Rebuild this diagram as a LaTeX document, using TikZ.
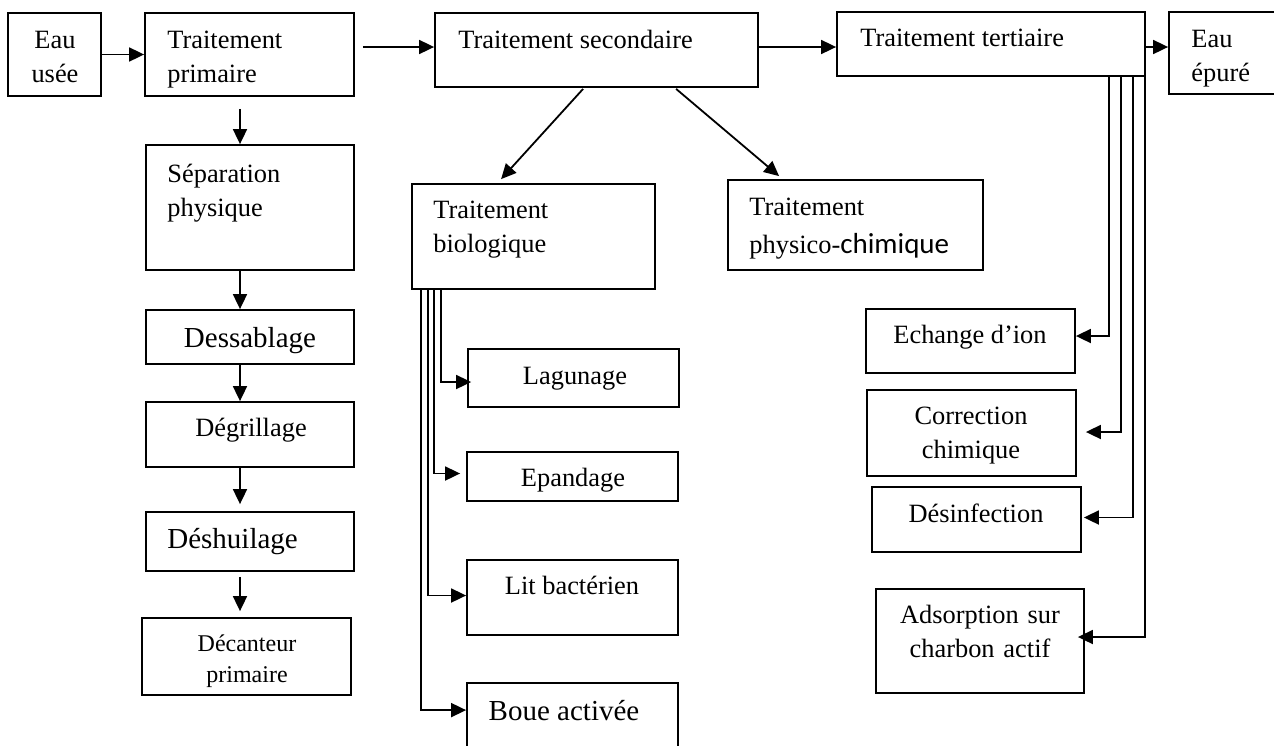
\documentclass[tikz,border=0pt]{standalone}
\usepackage{fontspec}
\setmainfont{Liberation Serif}
\newfontfamily\calibrifont{Carlito}
\usetikzlibrary{arrows.meta,calc,fit}
\tikzset{
	box/.style={draw,line width=0.9pt,inner sep=0pt},
	arr/.style={line width=0.9pt,-{Triangle[length=7.5pt,width=7pt]}},
	txt/.style={inner sep=0pt,font=\fontsize{13.2}{17}\selectfont},
	big/.style={inner sep=0pt,font=\fontsize{14.5}{18}\selectfont},
	sml/.style={inner sep=0pt,font=\fontsize{12}{15.5}\selectfont}
}
\begin{document}
\begin{tikzpicture}[x=0.5pt,y=0.5pt,yscale=-1,xscale=1]
	\useasboundingbox (0,0) rectangle (1274,745);
	\clip (0,0) rectangle (1274,745);
	\node[box,fit={(8,13) (101,96)}] (eu) {};
	\node[box,fit={(145,13) (354,96)}] (tp) {};
	\node[box,fit={(146,145) (354,270)}] (sp) {};
	\node[box,fit={(146,310) (354,364)}] (des) {};
	\node[box,fit={(146,402) (354,467)}] (deg) {};
	\node[box,fit={(146,512) (354,571)}] (desh) {};
	\node[box,fit={(142,618) (351,695)}] (dec) {};
	\node[box,fit={(435,13) (758,87)}] (ts) {};
	\node[box,fit={(412,184) (655,289)}] (tb) {};
	\node[box,fit={(728,180) (983,270)}] (tpc) {};
	\node[box,fit={(468,349) (679,407)}] (lag) {};
	\node[box,fit={(467,452) (678,501)}] (epa) {};
	\node[box,fit={(467,560) (678,635)}] (lit) {};
	\node[box,fit={(467,683) (678,760)}] (boue) {};
	\node[box,fit={(837,12) (1145,76)}] (tt) {};
	\node[box,fit={(1169,12) (1290,94)}] (ep) {};
	\node[box,fit={(866,309) (1075,373)}] (ech) {};
	\node[box,fit={(867,390) (1076,476)}] (cor) {};
	\node[box,fit={(872,487) (1081,552)}] (dsf) {};
	\node[box,fit={(876,589) (1084,693)}] (ads) {};
	\coordinate (colA) at (240,0);

	\node[txt,anchor=base,align=center,text width=60pt] (eu-t) at (55,48) {Eau\\usée};
	\node[txt,anchor=base west,align=left,text width=90pt] (tp-t) at (167,48) {Traitement\\primaire};
	\node[txt,anchor=base west,align=left,text width=90pt] (sp-t) at (167,182) {Séparation\\physique};
	\node[big,anchor=base] (des-t) at (250,347) {Dessablage};
	\node[txt,anchor=base] (deg-t) at (251,436) {Dégrillage};
	\node[big,anchor=base west] (desh-t) at (167,548) {Déshuilage};
	\node[sml,anchor=base,align=center,text width=90pt] (dec-t) at (247,651) {Décanteur\\primaire};
	\node[txt,anchor=base west] (ts-t) at (458,48) {Traitement secondaire};
	\node[txt,anchor=base west,align=left,text width=110pt] (tb-t) at (433,218) {Traitement\\biologique};
	\node[txt,anchor=base west,align=left,text width=110pt,font=\fontsize{13.2}{19}\selectfont] (tpc-t) at (749,215) {Traitement\\physico-{\calibrifont\fontsize{14.5}{19}\selectfont chimique}};
	\node[txt,anchor=base] (lag-t) at (575,384) {Lagunage};
	\node[txt,anchor=base] (epa-t) at (573,486) {Epandage};
	\node[txt,anchor=base] (lit-t) at (572,594) {Lit bactérien};
	\node[big,anchor=base] (boue-t) at (564,720) {Boue activée};
	\node[txt,anchor=base west] (tt-t) at (860,46) {Traitement tertiaire};
	\node[txt,anchor=base west,align=left,text width=50pt] (ep-t) at (1191,47) {Eau\\épuré};
	\node[txt,anchor=base] (ech-t) at (970,343) {Echange d’ion};
	\node[txt,anchor=base,align=center,text width=100pt] (cor-t) at (971,424) {Correction\\chimique};
	\node[txt,anchor=base] (dsf-t) at (976,522) {Désinfection};
	\node[txt,anchor=base,align=center,text width=100pt] (ads-t) at (980,623) {Adsorption sur\\charbon actif};

	\draw[arr] (eu.east) -- (tp.west);
	\draw[arr] ($(tp.east)+(8,-7.5)$) -- ($(ts.west)+(0,-3)$);
	\draw[arr] ($(ts.east)+(0,-3)$) -- ($(tt.west)+(0,3)$);
	\draw[arr] ($(tt.east)+(0,3)$) -- ($(ep.west)+(0,-6)$);

	\draw[arr] (tp.south -| colA) ++(0,12) -- (sp.north -| colA);
	\draw[arr] (sp.south -| colA) -- (des.north -| colA);
	\draw[arr] (des.south -| colA) -- (deg.north -| colA);
	\draw[arr] (deg.south -| colA) -- ($(desh.north -| colA)+(0,-7)$);
	\draw[arr] (desh.south -| colA) ++(0,5) -- ($(dec.north -| colA)+(0,-6)$);

	\draw[arr] ($(ts.south west)+(149,1)$) -- ($(tb.north west)+(90,-4)$);
	\draw[arr] ($(ts.south west)+(242,1)$) -- ($(tpc.north west)+(52,-3)$);

	\draw[arr] ($(tb.south west)+(30,0)$) |- ($(lag.west)+(4,4)$);
	\draw[arr] ($(tb.south west)+(23,0)$) |- ($(epa.west)+(-6,-3)$);
	\draw[arr] ($(tb.south west)+(17,0)$) |- ($(lit.west)+(0,-2)$);
	\draw[arr] ($(tb.south west)+(10,0)$) |- ($(boue.north west)+(0,28)$);

	\draw[arr] ($(tt.south east)+(-37,0)$) |- ($(ech.east)+(0,-5)$);
	\draw[arr] ($(tt.south east)+(-25,0)$) |- ($(cor.east)+(9,-1)$);
	\draw[arr] ($(tt.south east)+(-13,0)$) |- ($(dsf.east)+(2,-2)$);
	\draw[arr] ($(tt.south east)+(-1,0)$) |- ($(ads.east)+(-7,-4)$);
\end{tikzpicture}
\end{document}
